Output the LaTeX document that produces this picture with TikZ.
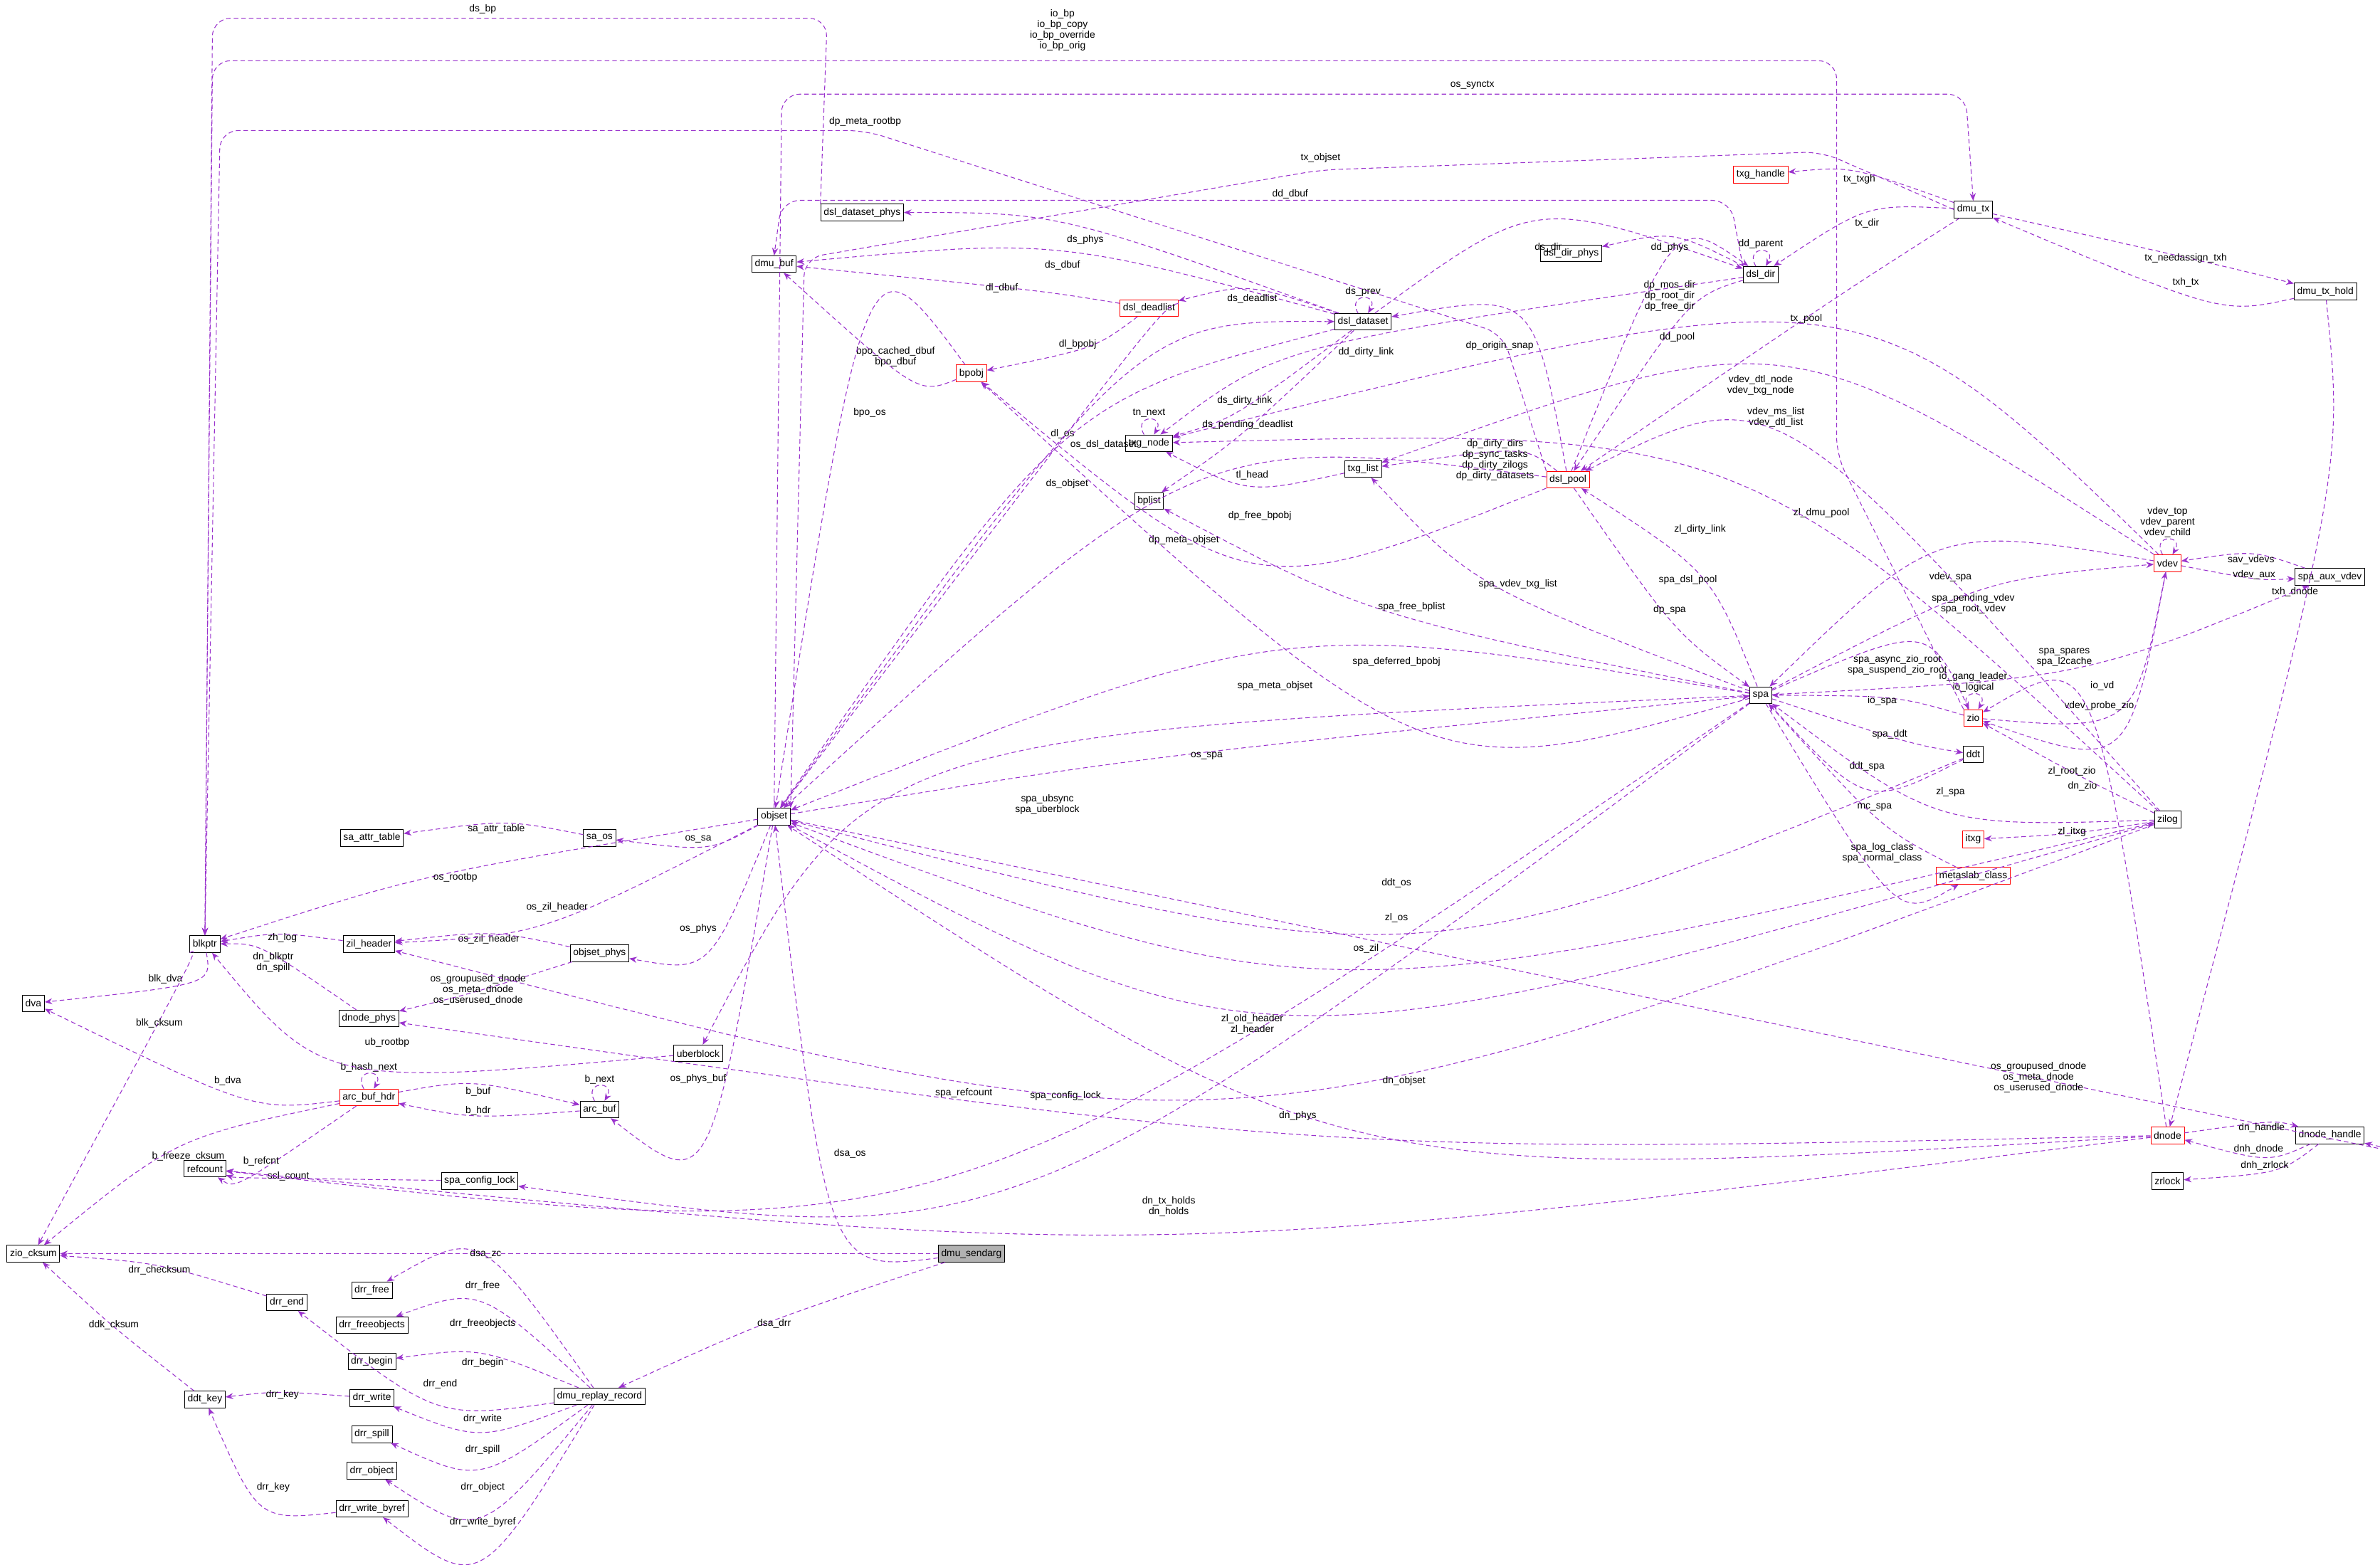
\documentclass[tikz,border=0pt]{standalone}
\usepackage{fontspec}
\setmainfont{Liberation Sans}
\usetikzlibrary{arrows.meta,calc}
\definecolor{depcol}{HTML}{9A32CD}
\tikzset{
  box/.style={draw,rectangle,inner sep=2pt,minimum height=11pt,font=\fontsize{6.5}{7}\selectfont,fill=white},
  redbox/.style={box,draw=red},
  graybox/.style={box,fill=gray!60},
  dep/.style={densely dashed,color=depcol,line width=0.5pt,-{Stealth[length=5pt,width=4pt]}},
  lbl/.style={font=\fontsize{6.5}{7}\selectfont,align=center,inner sep=1pt,text=black}
}
% edge bent toward the label point
\newcommand{\lnk}[4]{\draw[dep] (#1) .. controls ($2*(#3)-0.5*(#1)-0.5*(#2)$) .. (#2) node[lbl] at (#3){#4};}
% edge along given way points
\newcommand{\lnkp}[5]{\draw[dep,rounded corners=12pt] (#1) -- #3 -- (#2) node[lbl] at (#4){#5};}
\begin{document}
\begin{tikzpicture}[x=1pt,y=-1pt]
\useasboundingbox (0,0) rectangle (1568,1031);
% nodes
\node[box] (blkptr) at (135,622) {blkptr};
\node[box] (dva) at (22,661) {dva};
\node[box] (zio_cksum) at (22,826) {zio\_cksum};
\node[box] (refcount) at (135,770) {refcount};
\node[redbox] (arc_buf_hdr) at (243,723) {arc\_buf\_hdr};
\node[box] (arc_buf) at (395,731) {arc\_buf};
\node[box] (zil_header) at (243,622) {zil\_header};
\node[box] (dnode_phys) at (243,671) {dnode\_phys};
\node[box] (objset_phys) at (395,628) {objset\_phys};
\node[box] (sa_attr_table) at (245,552) {sa\_attr\_table};
\node[box] (sa_os) at (395,552) {sa\_os};
\node[box] (objset) at (510,538) {objset};
\node[box] (uberblock) at (460,694) {uberblock};
\node[box] (spa_config_lock) at (316,778) {spa\_config\_lock};
\node[graybox] (dmu_sendarg) at (640,826) {dmu\_sendarg};
\node[box] (dmu_replay_record) at (395,920) {dmu\_replay\_record};
\node[box] (drr_free) at (245,850) {drr\_free};
\node[box] (drr_freeobjects) at (245,873) {drr\_freeobjects};
\node[box] (drr_begin) at (245,897) {drr\_begin};
\node[box] (drr_write) at (245,921) {drr\_write};
\node[box] (drr_spill) at (245,945) {drr\_spill};
\node[box] (drr_object) at (245,969) {drr\_object};
\node[box] (drr_write_byref) at (245,994) {drr\_write\_byref};
\node[box] (drr_end) at (189,858) {drr\_end};
\node[box] (ddt_key) at (135,922) {ddt\_key};
\node[box] (dmu_buf) at (510,174) {dmu\_buf};
\node[box] (dsl_dataset_phys) at (568,140) {dsl\_dataset\_phys};
\node[redbox] (bpobj) at (640,246) {bpobj};
\node[redbox] (dsl_deadlist) at (757,203) {dsl\_deadlist};
\node[box] (dsl_dataset) at (898,212) {dsl\_dataset};
\node[box] (txg_node) at (757,292) {txg\_node};
\node[box] (bplist) at (757,330) {bplist};
\node[box] (txg_list) at (898,309) {txg\_list};
\node[redbox] (dsl_pool) at (1033,316) {dsl\_pool};
\node[box] (dsl_dir_phys) at (1035,167) {dsl\_dir\_phys};
\node[box] (dsl_dir) at (1160,181) {dsl\_dir};
\node[redbox] (txg_handle) at (1160,115) {txg\_handle};
\node[box] (dmu_tx) at (1300,138) {dmu\_tx};
\node[box] (dmu_tx_hold) at (1532,192) {dmu\_tx\_hold};
\node[redbox] (vdev) at (1428,371) {vdev};
\node[box] (spa_aux_vdev) at (1535,380) {spa\_aux\_vdev};
\node[box] (spa) at (1160,458) {spa};
\node[redbox] (zio) at (1300,473) {zio};
\node[box] (ddt) at (1300,497) {ddt};
\node[box] (zilog) at (1428,540) {zilog};
\node[redbox] (itxg) at (1300,553) {itxg};
\node[redbox] (metaslab_class) at (1300,577) {metaslab\_class};
\node[redbox] (dnode) at (1428,748) {dnode};
\node[box] (dnode_handle) at (1535,748) {dnode\_handle};
\node[box] (zrlock) at (1428,778) {zrlock};
% self loops
\draw[dep] (arc_buf_hdr) to[out=120,in=60,looseness=6] node[lbl,above]{b\_hash\_next} (arc_buf_hdr);
\draw[dep] (arc_buf) to[out=120,in=60,looseness=6] node[lbl,above]{b\_next} (arc_buf);
\draw[dep] (txg_node) to[out=120,in=60,looseness=6] node[lbl,above]{tn\_next} (txg_node);
\draw[dep] (dsl_dataset) to[out=120,in=60,looseness=6] node[lbl,above]{ds\_prev} (dsl_dataset);
\draw[dep] (dsl_dir) to[out=120,in=60,looseness=6] node[lbl,above]{dd\_parent} (dsl_dir);
\draw[dep] (vdev) to[out=120,in=60,looseness=6] node[lbl,above]{vdev\_top\\vdev\_parent\\vdev\_child} (vdev);
\draw[dep] (zio) to[out=120,in=60,looseness=6] node[lbl,above]{io\_gang\_leader\\io\_logical} (zio);
% long routed connectors
\lnkp{dsl_dataset_phys.north west}{blkptr.north}{(545,12) -- (140,12)}{318,6}{ds\_bp}
\lnkp{zio.north west}{blkptr.north}{(1210,300) -- (1210,40) -- (140,40)}{700,20}{io\_bp\\io\_bp\_copy\\io\_bp\_override\\io\_bp\_orig}
\lnkp{dsl_pool.north west}{blkptr.north}{(990,220) -- (570,86) -- (145,86)}{570,80}{dp\_meta\_rootbp}
\lnkp{objset.north}{dmu_tx.north}{(515,62) -- (1295,62)}{970,56}{os\_synctx}
\lnkp{dsl_dir.north west}{dmu_buf.north}{(1140,132) -- (515,132)}{850,128}{dd\_dbuf}
\lnkp{dmu_tx.west}{objset.north east}{(1200,100) -- (870,112) -- (530,170)}{870,104}{tx\_objset}
% connectors
\lnk{blkptr}{dva}{109,645}{blk\_dva}
\lnk{blkptr}{zio_cksum}{105,674}{blk\_cksum}
\lnk{arc_buf_hdr}{dva}{150,712}{b\_dva}
\lnk{arc_buf_hdr}{zio_cksum}{124,762}{b\_freeze\_cksum}
\lnk{arc_buf_hdr}{refcount}{172,765}{b\_refcnt}
\lnk{arc_buf_hdr}{arc_buf}{315,719}{b\_buf}
\lnk{arc_buf}{arc_buf_hdr}{315,732}{b\_hdr}
\lnk{zil_header}{blkptr}{186,618}{zh\_log}
\lnk{dnode_phys}{blkptr}{180,634}{dn\_blkptr\\dn\_spill}
\lnk{objset_phys}{zil_header}{322,619}{os\_zil\_header}
\lnk{objset_phys}{dnode_phys}{315,652}{os\_groupused\_dnode\\os\_meta\_dnode\\os\_userused\_dnode}
\lnk{uberblock}{blkptr}{255,687}{ub\_rootbp}
\lnk{spa_config_lock}{refcount}{190,775}{scl\_count}
\lnk{sa_os}{sa_attr_table}{327,546}{sa\_attr\_table}
\lnk{objset}{sa_os}{460,553}{os\_sa}
\lnk{objset}{blkptr}{300,578}{os\_rootbp}
\lnk{objset}{zil_header}{367,598}{os\_zil\_header}
\lnk{objset}{objset_phys}{460,612}{os\_phys}
\lnk{objset}{arc_buf}{460,711}{os\_phys\_buf}
\lnk{objset}{spa}{795,498}{os\_spa}
\lnk{objset}{dnode_handle}{1343,710}{os\_groupused\_dnode\\os\_meta\_dnode\\os\_userused\_dnode}
\lnk{objset}{zilog}{900,625}{os\_zil}
\lnk{dmu_sendarg}{objset}{560,760}{dsa\_os}
\lnk{dmu_sendarg}{zio_cksum}{320,826}{dsa\_zc}
\lnk{dmu_sendarg}{dmu_replay_record}{510,872}{dsa\_drr}
\lnk{dmu_replay_record}{drr_free}{318,847}{drr\_free}
\lnk{dmu_replay_record}{drr_freeobjects}{318,872}{drr\_freeobjects}
\lnk{dmu_replay_record}{drr_begin}{318,898}{drr\_begin}
\lnk{dmu_replay_record}{drr_end}{290,912}{drr\_end}
\lnk{dmu_replay_record}{drr_write}{318,935}{drr\_write}
\lnk{dmu_replay_record}{drr_spill}{318,955}{drr\_spill}
\lnk{dmu_replay_record}{drr_object}{318,980}{drr\_object}
\lnk{dmu_replay_record}{drr_write_byref}{318,1003}{drr\_write\_byref}
\lnk{drr_end}{zio_cksum}{105,837}{drr\_checksum}
\lnk{drr_write}{ddt_key}{186,919}{drr\_key}
\lnk{drr_write_byref}{ddt_key}{180,980}{drr\_key}
\lnk{ddt_key}{zio_cksum}{75,873}{ddk\_cksum}
\lnk{dsl_dataset}{dsl_dataset_phys}{715,158}{ds\_phys}
\lnk{dsl_dataset}{dmu_buf}{700,175}{ds\_dbuf}
\lnk{dsl_deadlist}{dmu_buf}{660,190}{dl\_dbuf}
\lnk{bpobj}{dmu_buf}{590,235}{bpo\_cached\_dbuf\\bpo\_dbuf}
\lnk{bpobj}{objset}{573,272}{bpo\_os}
\lnk{dsl_deadlist}{bpobj}{710,227}{dl\_bpobj}
\lnk{dsl_deadlist}{objset}{700,286}{dl\_os}
\lnk{dsl_dataset}{dsl_deadlist}{825,197}{ds\_deadlist}
\lnk{objset}{dsl_dataset}{727,293}{os\_dsl\_dataset}
\lnk{dsl_dataset}{objset}{703,319}{ds\_objset}
\lnk{dsl_dataset}{dsl_dir}{1020,163}{ds\_dir}
\lnk{dsl_dataset}{txg_node}{820,264}{ds\_dirty\_link}
\lnk{dsl_dataset}{bplist}{822,280}{ds\_pending\_deadlist}
\lnk{txg_list}{txg_node}{825,313}{tl\_head}
\lnk{dsl_pool}{txg_list}{985,303}{dp\_dirty\_dirs\\dp\_sync\_tasks\\dp\_dirty\_zilogs\\dp\_dirty\_datasets}
\lnk{dsl_pool}{dsl_dataset}{988,228}{dp\_origin\_snap}
\lnk{dsl_pool}{bpobj}{830,340}{dp\_free\_bpobj}
\lnk{dsl_pool}{objset}{780,356}{dp\_meta\_objset}
\lnk{dsl_pool}{spa}{1100,402}{dp\_spa}
\lnk{spa}{dsl_pool}{1112,382}{spa\_dsl\_pool}
\lnk{dsl_dir}{dsl_dir_phys}{1100,163}{dd\_phys}
\lnk{dsl_dir}{dsl_pool}{1105,222}{dd\_pool}
\lnk{dsl_pool}{dsl_dir}{1100,195}{dp\_mos\_dir\\dp\_root\_dir\\dp\_free\_dir}
\lnk{dsl_dir}{txg_node}{900,232}{dd\_dirty\_link}
\lnk{dmu_tx}{txg_handle}{1225,118}{tx\_txgh}
\lnk{dmu_tx}{dsl_dir}{1230,147}{tx\_dir}
\lnk{dmu_tx}{dsl_pool}{1190,210}{tx\_pool}
\lnk{dmu_tx}{dmu_tx_hold}{1440,170}{tx\_needassign\_txh}
\lnk{dmu_tx_hold}{dmu_tx}{1440,186}{txh\_tx}
\lnk{dmu_tx_hold}{dnode}{1512,390}{txh\_dnode}
\lnk{vdev}{txg_node}{1160,254}{vdev\_dtl\_node\\vdev\_txg\_node}
\lnk{vdev}{txg_list}{1170,275}{vdev\_ms\_list\\vdev\_dtl\_list}
\lnk{vdev}{spa}{1285,380}{vdev\_spa}
\lnk{spa}{vdev}{1300,398}{spa\_pending\_vdev\\spa\_root\_vdev}
\lnk{spa_aux_vdev}{vdev}{1483,369}{sav\_vdevs}
\lnk{vdev}{spa_aux_vdev}{1485,379}{vdev\_aux}
\lnk{spa}{spa_aux_vdev}{1360,433}{spa\_spares\\spa\_l2cache}
\lnk{spa}{txg_list}{1000,385}{spa\_vdev\_txg\_list}
\lnk{spa}{bplist}{930,400}{spa\_free\_bplist}
\lnk{spa}{bpobj}{920,436}{spa\_deferred\_bpobj}
\lnk{spa}{objset}{840,452}{spa\_meta\_objset}
\lnk{spa}{zio}{1250,438}{spa\_async\_zio\_root\\spa\_suspend\_zio\_root}
\lnk{zio}{spa}{1240,462}{io\_spa}
\lnk{zio}{vdev}{1385,452}{io\_vd}
\lnk{vdev}{zio}{1383,465}{vdev\_probe\_zio}
\lnk{spa}{ddt}{1245,484}{spa\_ddt}
\lnk{ddt}{spa}{1230,505}{ddt\_spa}
\lnk{ddt}{objset}{920,582}{ddt\_os}
\lnk{spa}{uberblock}{690,530}{spa\_ubsync\\spa\_uberblock}
\lnk{spa}{refcount}{635,720}{spa\_refcount}
\lnk{spa}{spa_config_lock}{702,722}{spa\_config\_lock}
\lnk{zilog}{spa}{1285,522}{zl\_spa}
\lnk{zilog}{zio}{1365,508}{zl\_root\_zio}
\lnk{zilog}{itxg}{1365,548}{zl\_itxg}
\lnk{zilog}{dsl_pool}{1200,338}{zl\_dmu\_pool}
\lnk{zilog}{txg_node}{1120,349}{zl\_dirty\_link}
\lnk{zilog}{objset}{920,605}{zl\_os}
\lnk{zilog}{zil_header}{825,675}{zl\_old\_header\\zl\_header}
\lnk{metaslab_class}{spa}{1235,532}{mc\_spa}
\lnk{spa}{metaslab_class}{1240,562}{spa\_log\_class\\spa\_normal\_class}
\lnk{dnode}{zio}{1372,518}{dn\_zio}
\lnk{dnode}{objset}{925,712}{dn\_objset}
\lnk{dnode}{dnode_phys}{855,735}{dn\_phys}
\lnk{dnode}{refcount}{770,795}{dn\_tx\_holds\\dn\_holds}
\lnk{dnode}{dnode_handle}{1490,743}{dn\_handle}
\lnk{dnode_handle}{dnode}{1488,757}{dnh\_dnode}
\lnk{dnode_handle}{zrlock}{1492,768}{dnh\_zrlock}
\end{tikzpicture}
\end{document}
